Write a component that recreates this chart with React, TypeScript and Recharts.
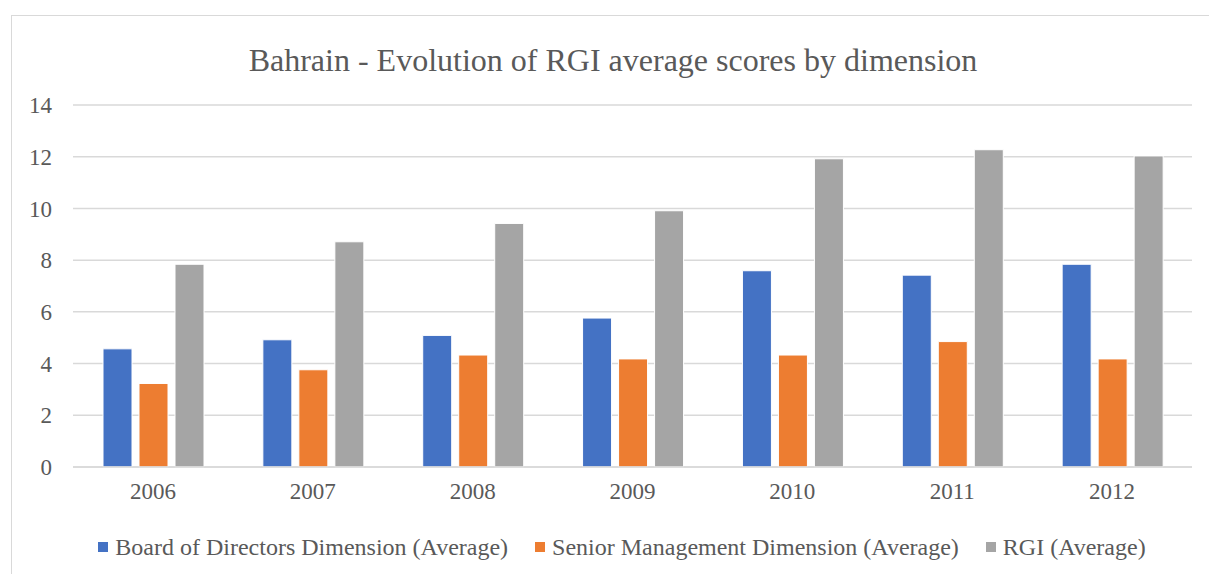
import React from "react";
import { BarChart, Bar, XAxis, YAxis, CartesianGrid, Legend } from "recharts";

const years = ["2006", "2007", "2008", "2009", "2010", "2011", "2012"];
const boardValues = [4.57, 4.92, 5.09, 5.76, 7.59, 7.42, 7.84];
const seniorValues = [3.23, 3.76, 4.33, 4.18, 4.33, 4.85, 4.18];
const rgiValues = [7.84, 8.71, 9.42, 9.91, 11.92, 12.27, 12.03];
const yTicks = [0, 2, 4, 6, 8, 10, 12, 14];
const seriesNames = [
  "Board of Directors Dimension (Average)",
  "Senior Management Dimension (Average)",
  "RGI (Average)",
];
const seriesColors = ["#4472C4", "#ED7D31", "#A5A5A5"];
const title = "Bahrain - Evolution of RGI average scores by dimension";

const data = years.map((y, i) => ({
  year: y,
  board: boardValues[i],
  senior: seniorValues[i],
  rgi: rgiValues[i],
}));

const FONT = "'Liberation Serif', 'Times New Roman', serif";

const LegendContent = () => (
  <div
    style={{
      display: "flex",
      justifyContent: "center",
      alignItems: "center",
      fontFamily: FONT,
      fontSize: 24,
      lineHeight: "28px",
      color: "#595959",
      whiteSpace: "nowrap",
      paddingLeft: 52,
    }}
  >
    {seriesNames.map((n, i) => (
      <div key={n} style={{ display: "flex", alignItems: "center", marginRight: i < 2 ? 27 : 0 }}>
        <span style={{ width: 10, height: 10, background: seriesColors[i], display: "inline-block", marginRight: 7 }} />
        <span>{n}</span>
      </div>
    ))}
  </div>
);

export default function App() {
  return (
    <div style={{ position: "absolute", left: 0, top: 0, width: 1209, height: 574, overflow: "hidden", background: "#fff" }}>
      <div
        style={{
          position: "absolute",
          left: 11,
          top: 15,
          width: 1205,
          height: 570,
          border: "1.5px solid #d9d9d9",
          boxSizing: "border-box",
        }}
      />
      <div
        style={{
          position: "absolute",
          left: 0,
          top: 40,
          width: 1226,
          textAlign: "center",
          fontFamily: FONT,
          fontSize: 32,
          color: "#595959",
          lineHeight: "40px",
        }}
      >
        {title}
      </div>
      <div style={{ position: "absolute", left: 0, top: 0 }}>
        <BarChart
          width={1209}
          height={574}
          data={data}
          margin={{ top: 105, right: 17, left: 0, bottom: 39 }}
          barCategoryGap={30}
          barGap={7}
        >
          <CartesianGrid vertical={false} stroke="#d9d9d9" strokeWidth={1.5} />
          <XAxis
            dataKey="year"
            axisLine={{ stroke: "#d9d9d9", strokeWidth: 1.5 }}
            tickLine={false}
            tickSize={0}
            tickMargin={16}
            height={40}
            tick={{ fill: "#595959", fontSize: 23, fontFamily: FONT }}
          />
          <YAxis
            domain={[0, 14]}
            ticks={yTicks}
            axisLine={false}
            tickLine={false}
            tickSize={0}
            tickMargin={21}
            width={73}
            tick={{ fill: "#595959", fontSize: 23, fontFamily: FONT }}
          />
          <Legend verticalAlign="bottom" content={<LegendContent />} wrapperStyle={{ bottom: 13 }} />
          <Bar dataKey="board" name={seriesNames[0]} fill={seriesColors[0]} stroke="#fff" strokeWidth={1} isAnimationActive={false} />
          <Bar dataKey="senior" name={seriesNames[1]} fill={seriesColors[1]} stroke="#fff" strokeWidth={1} isAnimationActive={false} />
          <Bar dataKey="rgi" name={seriesNames[2]} fill={seriesColors[2]} stroke="#fff" strokeWidth={1} isAnimationActive={false} />
        </BarChart>
      </div>
    </div>
  );
}
